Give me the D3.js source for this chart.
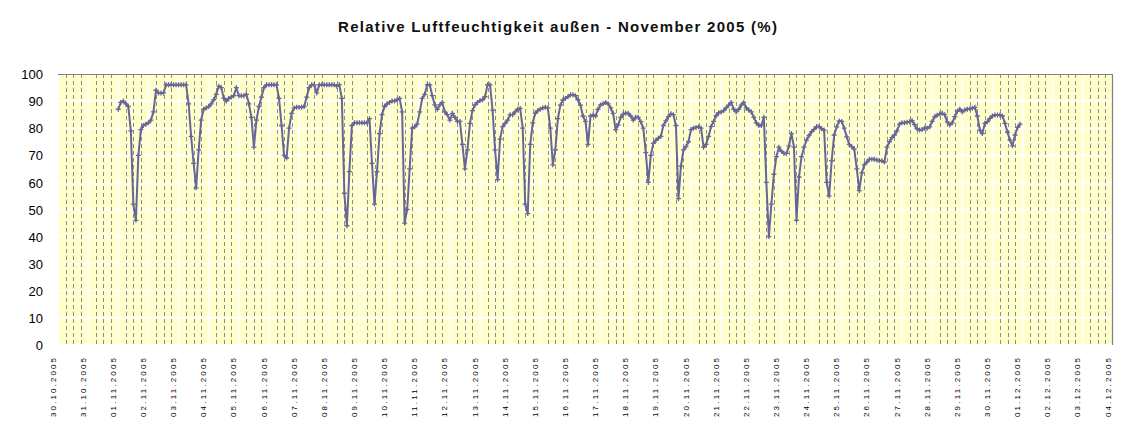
<!DOCTYPE html>
<html><head><meta charset="utf-8">
<script src="https://cdn.jsdelivr.net/npm/d3@7"></script>
<style>
html,body{margin:0;padding:0;background:#fff;}
svg{display:block;font-family:"Liberation Sans",Arial,sans-serif;}
</style></head>
<body>
<svg id="chart" width="1144" height="437"></svg>
<script>
const title = "Relative Luftfeuchtigkeit außen - November 2005 (%)";
const xLabels = ["30.10.2005","31.10.2005","01.11.2005","02.11.2005","03.11.2005","04.11.2005","05.11.2005","06.11.2005","07.11.2005","08.11.2005","09.11.2005","10.11.2005","11.11.2005","12.11.2005","13.11.2005","14.11.2005","15.11.2005","16.11.2005","17.11.2005","18.11.2005","19.11.2005","20.11.2005","21.11.2005","22.11.2005","23.11.2005","24.11.2005","25.11.2005","26.11.2005","27.11.2005","28.11.2005","29.11.2005","30.11.2005","01.12.2005","02.12.2005","03.12.2005","04.12.2005"];
const yTicks = [0,10,20,30,40,50,60,70,80,90,100];
const seriesStart = [2005, 10, 1]; // 01.11.2005 00:00, readings every 2 hours
const stepHours = 2;
// relative humidity (%), 12 readings per day, 01.11 – 30.11
const humidity = [
 87,89.5,90,89,88,79,52,46,70,79.5,81,81.5,
 82,83,86,94,93,93,93,96,96,96,96,96,
 96,96,96,96,89,77,67,58,72,83,87,87.5,
 88,89,90.5,92.5,95.5,95,91,90,91,91.5,92,95,
 92,92,92,92.5,89,84,73,83,88,91.5,95,96,
 96,96,96,96,91,81,70,69,80,85.5,87.5,87.7,
 87.7,87.7,88,91.5,95,96,96,93,96,96,96,96,
 96,96,96,95.5,96,91,56,44,64,81,82,82,
 82,82,82,82,83.5,67,52,64,78,85,88,89,
 89.5,90,90,90.5,91,86,45,50,65,80,80.5,81.5,
 86,91,92.5,96,96,92,88.6,87,88.6,89.5,86,85,
 83,85.5,84,82.5,82.5,74,65,72,81.8,86.5,88.6,89.5,
 90.2,90.5,91.6,96,96,86.7,72,61,76,80.6,81.8,83,
 85,85,86,87,87.3,80,52,48.5,74,82,85.5,86.5,
 87,87.5,87.7,87.5,80,66.5,72,83.5,88.5,90.4,91,91.6,
 92.3,92.3,92,90.5,88.5,84.5,82.5,74,84.5,84.9,84.5,87,
 88.6,89,89.5,89,87.5,85.5,79.5,81.2,84,85.2,85.5,85.5,
 84.5,83,84,84,82.4,80,71,60,70,74.4,75.5,76.3,
 77,81,82.7,84.3,85.3,85,81,54,66,72,73.2,75,
 79.5,80,80.3,80.5,80,73,74,77,80.6,82.5,84.6,85.7,
 86,86.5,87.5,88.5,89.5,87,86,87,88.5,89.5,87.5,86.7,
 86,84,82,81,81,84,60,40,52,63,69.5,73,
 71.5,70.7,70.7,73.5,78,73,46,62,69.5,73,75.6,77.3,
 78.7,79.6,80.6,80.6,79.8,79.3,60,55,68,77.5,80.5,82.7,
 82.5,80,76.8,74,73.2,72.3,65,57,63.5,66.5,67.5,68.5,
 68.5,68.5,68.3,68,68,67.5,73,75,76.5,77.5,79,81.5,
 82,82,82.2,82.4,82.8,81.3,79.8,79.3,79.5,80,80,80.5,
 82.5,84.2,84.8,85.2,85.5,85,82.3,81.2,82,84.3,86.2,87,
 86,86.7,87,87.2,87.4,87.7,84.5,79.3,78,81.8,82.4,83.6,
 84.5,84.9,84.9,84.9,84.5,81.8,78.5,75.6,73.5,77.5,80.3,81.5
];

const t0 = Date.UTC(seriesStart[0], seriesStart[1], seriesStart[2]);
const data = humidity.map((v,i)=>({t:new Date(t0 + i*stepHours*3600000), v}));

const svg = d3.select("#chart");
const L = 58, R = 1113, T = 74, B = 345;

const x = d3.scaleUtc()
  .domain([new Date(Date.UTC(2005,9,30)), new Date(Date.UTC(2005,11,4))])
  .range([L, R]);
const y = d3.scaleLinear().domain([0,100]).range([B, T]);

// title
svg.append("text")
  .attr("x", 338).attr("y", 32)
  .attr("textLength", 439).attr("lengthAdjust","spacing")
  .attr("font-size", 15).attr("font-weight","bold").attr("fill","#111")
  .text(title);

// plot background
svg.append("rect").attr("x",L).attr("y",T).attr("width",R-L).attr("height",B-T).attr("fill","#FFFFCC");

const days = d3.utcDay.range(x.domain()[0], new Date(+x.domain()[1] + 1));
const quarters = d3.utcHour.every(6).range(x.domain()[0], x.domain()[1]).filter(d=>d.getUTCHours()!==0);

// horizontal white gridlines
svg.append("g").selectAll("line").data(yTicks).join("line")
  .attr("x1",L).attr("x2",R).attr("y1",d=>y(d)).attr("y2",d=>y(d))
  .attr("stroke","#fff").attr("stroke-width",1.6);
// vertical white day lines
svg.append("g").selectAll("line").data(days).join("line")
  .attr("x1",d=>x(d)).attr("x2",d=>x(d)).attr("y1",T).attr("y2",B)
  .attr("stroke","#fff").attr("stroke-width",1.6);
// dashed 6-hour lines
svg.append("g").selectAll("line").data(quarters).join("line")
  .attr("x1",d=>Math.round(x(d))+0.5).attr("x2",d=>Math.round(x(d))+0.5).attr("y1",T).attr("y2",B)
  .attr("stroke","#8c8c8c").attr("stroke-width",1).attr("stroke-dasharray","4,3");

// border top/right
svg.append("path").attr("d",`M${L},${T+0.5}H${R-0.5}V${B}`).attr("fill","none").attr("stroke","#808080").attr("stroke-width",1.2);

// y axis
const yAxis = svg.append("g").attr("transform",`translate(${L},0)`)
  .call(d3.axisLeft(y).tickValues(yTicks).tickSize(0).tickPadding(15));
yAxis.select(".domain").remove();
yAxis.selectAll("text").attr("font-size",13).attr("font-family","'Liberation Sans',Arial,sans-serif").attr("fill","#000").attr("dy","0.36em");

// x axis
const xAxis = svg.append("g").attr("transform",`translate(0,${B})`)
  .call(d3.axisBottom(x).tickValues(days).tickSize(0).tickFormat((d,i)=>xLabels[i]));
xAxis.select(".domain").remove();
xAxis.selectAll("text")
  .attr("font-size",8).attr("font-family","'Liberation Sans',Arial,sans-serif").attr("fill","#000")
  .attr("transform","rotate(-90)").attr("text-anchor","end")
  .attr("x",-13).attr("y",-3).attr("dy",0)
  .attr("textLength",59).attr("lengthAdjust","spacing");

// line
const line = d3.line().x(d=>x(d.t)).y(d=>y(d.v));
svg.append("path").datum(data).attr("d",line)
  .attr("fill","none").attr("stroke","#666699").attr("stroke-width",2).attr("stroke-linejoin","round");

// plus markers
svg.append("g").selectAll("path").data(data).join("path")
  .attr("transform",d=>`translate(${x(d.t)},${y(d.v)})`)
  .attr("d","M-2.5,0H2.5M0,-2.5V2.5")
  .attr("stroke","#666699").attr("stroke-width",1.3).attr("fill","none");
</script>
</body></html>
